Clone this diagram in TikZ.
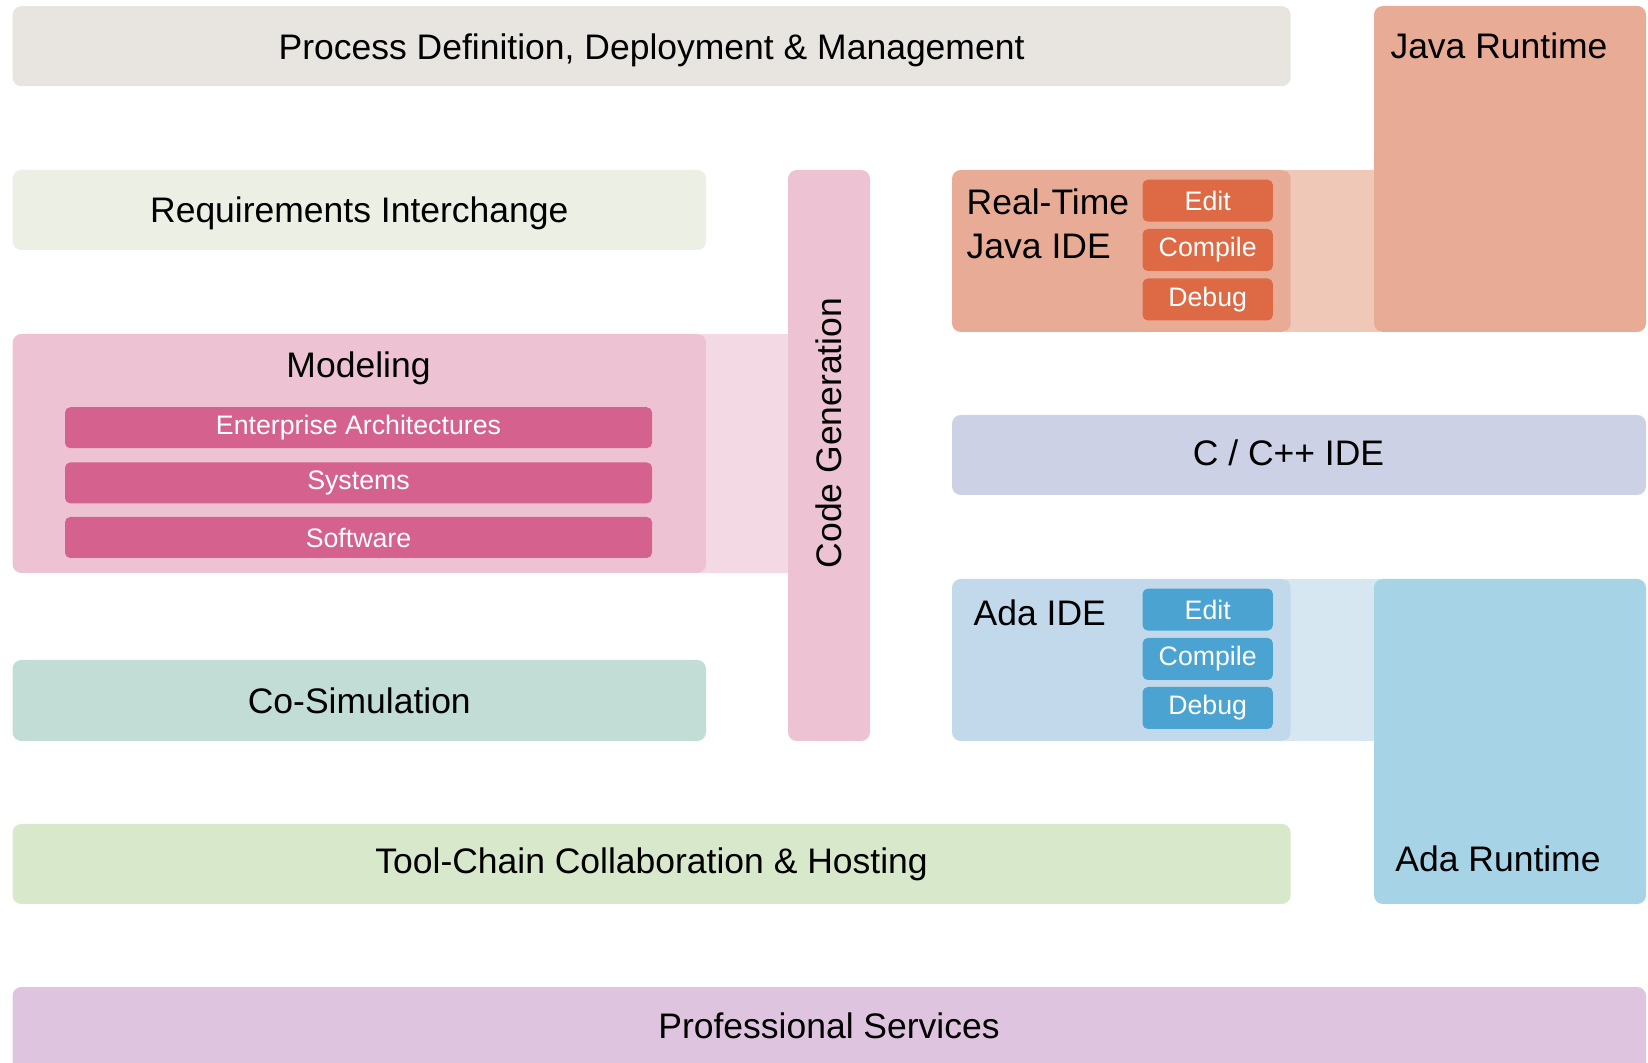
\documentclass[tikz,border=0pt]{standalone}
\usepackage{fontspec}
\setmainfont{Liberation Sans}
\definecolor{procfill}{HTML}{E8E5E1}
\definecolor{reqfill}{HTML}{EBEFE4}
\definecolor{modfill}{HTML}{EDC3D3}
\definecolor{modsub}{HTML}{D5628E}
\definecolor{modband}{HTML}{F3D9E3}
\definecolor{javafill}{HTML}{E8AB95}
\definecolor{javaband}{HTML}{F0C8B8}
\definecolor{javasub}{HTML}{DD6A45}
\definecolor{cppfill}{HTML}{CDD1E5}
\definecolor{adaidefill}{HTML}{C2D9EC}
\definecolor{adartfill}{HTML}{A7D3E7}
\definecolor{adaband}{HTML}{D6E7F2}
\definecolor{adasub}{HTML}{4BA3D2}
\definecolor{simfill}{HTML}{C1DDD5}
\definecolor{hostfill}{HTML}{D7E8CB}
\definecolor{servfill}{HTML}{DFC4DF}
\tikzset{
  layer/.style={rounded corners=2.5pt, inner sep=0pt, text=black,
    font=\fontsize{10.1pt}{12.5pt}\selectfont},
  toolbox/.style={rounded corners=1.5pt, inner sep=0pt, text=white,
    font=\fontsize{7.6pt}{9pt}\selectfont},
  caption/.style={inner sep=0pt, text=black, font=\fontsize{10.1pt}{12.5pt}\selectfont}
}

\begin{document}
\begin{tikzpicture}
\clip (0,0) rectangle (16.48,-10.63);
\fill[white] (0,0) rectangle (16.48,-10.63);

\fill[modband] (7.0,-3.34) rectangle (7.95,-5.73);
\fill[javaband] (12.85,-1.70) rectangle (13.8,-3.32);
\fill[adaband] (12.85,-5.79) rectangle (13.8,-7.41);

\node[layer, fill=procfill, minimum width=12.78cm, minimum height=0.80cm, text depth=0pt] (proc) at (6.516,-0.4625) {Process Definition, Deployment \& Management};
\node[layer, fill=reqfill, minimum width=6.934cm, minimum height=0.80cm, text depth=0pt] (req) at (3.593,-2.10) {Requirements Interchange};
\node[layer, fill=modfill, minimum width=6.934cm, minimum height=2.39cm] (model) at (3.593,-4.535) {};
\node[caption] (modeltext) at (3.585,-3.68) {Modeling};
\node[toolbox, fill=modsub, minimum width=5.87cm, minimum height=0.41cm] (ea) at (3.585,-4.277) {Enterprise Architectures};
\node[toolbox, fill=modsub, minimum width=5.87cm, minimum height=0.41cm] (sys) at (3.585,-4.829) {Systems};
\node[toolbox, fill=modsub, minimum width=5.87cm, minimum height=0.41cm] (soft) at (3.585,-5.375) {Software};
\node[layer, fill=simfill, minimum width=6.934cm, minimum height=0.81cm] (cosim) at (3.593,-7.005) {Co-Simulation};

\node[layer, fill=modfill, minimum width=0.82cm, minimum height=5.71cm] (codegen) at (8.29,-4.555) {};
\node[caption, rotate=90] (codegentext) at (8.29,-4.33) {Code Generation};

\node[layer, fill=javafill, minimum width=2.72cm, minimum height=3.26cm] (javart) at (15.10,-1.69) {};
\node[caption] (javarttext) at (14.99,-0.46) {Java Runtime};
\node[layer, fill=javafill, minimum width=3.386cm, minimum height=1.62cm] (javaide) at (11.213,-2.51) {};
\node[caption, anchor=west, align=left] (javaidetext) at (9.66,-2.24) {Real-Time\\Java IDE};
\node[toolbox, fill=javasub, minimum width=1.303cm, minimum height=0.42cm] (jedit) at (12.077,-2.007) {Edit};
\node[toolbox, fill=javasub, minimum width=1.303cm, minimum height=0.42cm] (jcomp) at (12.077,-2.50) {Compile};
\node[toolbox, fill=javasub, minimum width=1.303cm, minimum height=0.42cm] (jdebug) at (12.077,-2.995) {Debug};

\node[layer, fill=cppfill, minimum width=6.94cm, minimum height=0.80cm] (cpp) at (12.99,-4.55) {};
\node[caption] (cpptext) at (12.885,-4.53) {C / C++ IDE};

\node[layer, fill=adartfill, minimum width=2.72cm, minimum height=3.25cm] (adart) at (15.10,-7.415) {};
\node[caption] (adarttext) at (14.98,-8.59) {Ada Runtime};
\node[layer, fill=adaidefill, minimum width=3.386cm, minimum height=1.62cm] (adaide) at (11.213,-6.60) {};
\node[caption, anchor=west] (adaidetext) at (9.73,-6.13) {Ada IDE};
\node[toolbox, fill=adasub, minimum width=1.303cm, minimum height=0.42cm] (aedit) at (12.077,-6.096) {Edit};
\node[toolbox, fill=adasub, minimum width=1.303cm, minimum height=0.42cm] (acomp) at (12.077,-6.59) {Compile};
\node[toolbox, fill=adasub, minimum width=1.303cm, minimum height=0.42cm] (adebug) at (12.077,-7.08) {Debug};

\node[layer, fill=hostfill, minimum width=12.78cm, minimum height=0.80cm] (host) at (6.516,-8.64) {Tool-Chain Collaboration \& Hosting};
\node[layer, fill=servfill, minimum width=16.334cm, minimum height=1.1cm] (serv) at (8.293,-10.42) {};
\node[caption] (servtext) at (8.29,-10.26) {Professional Services};
\end{tikzpicture}
\end{document}
